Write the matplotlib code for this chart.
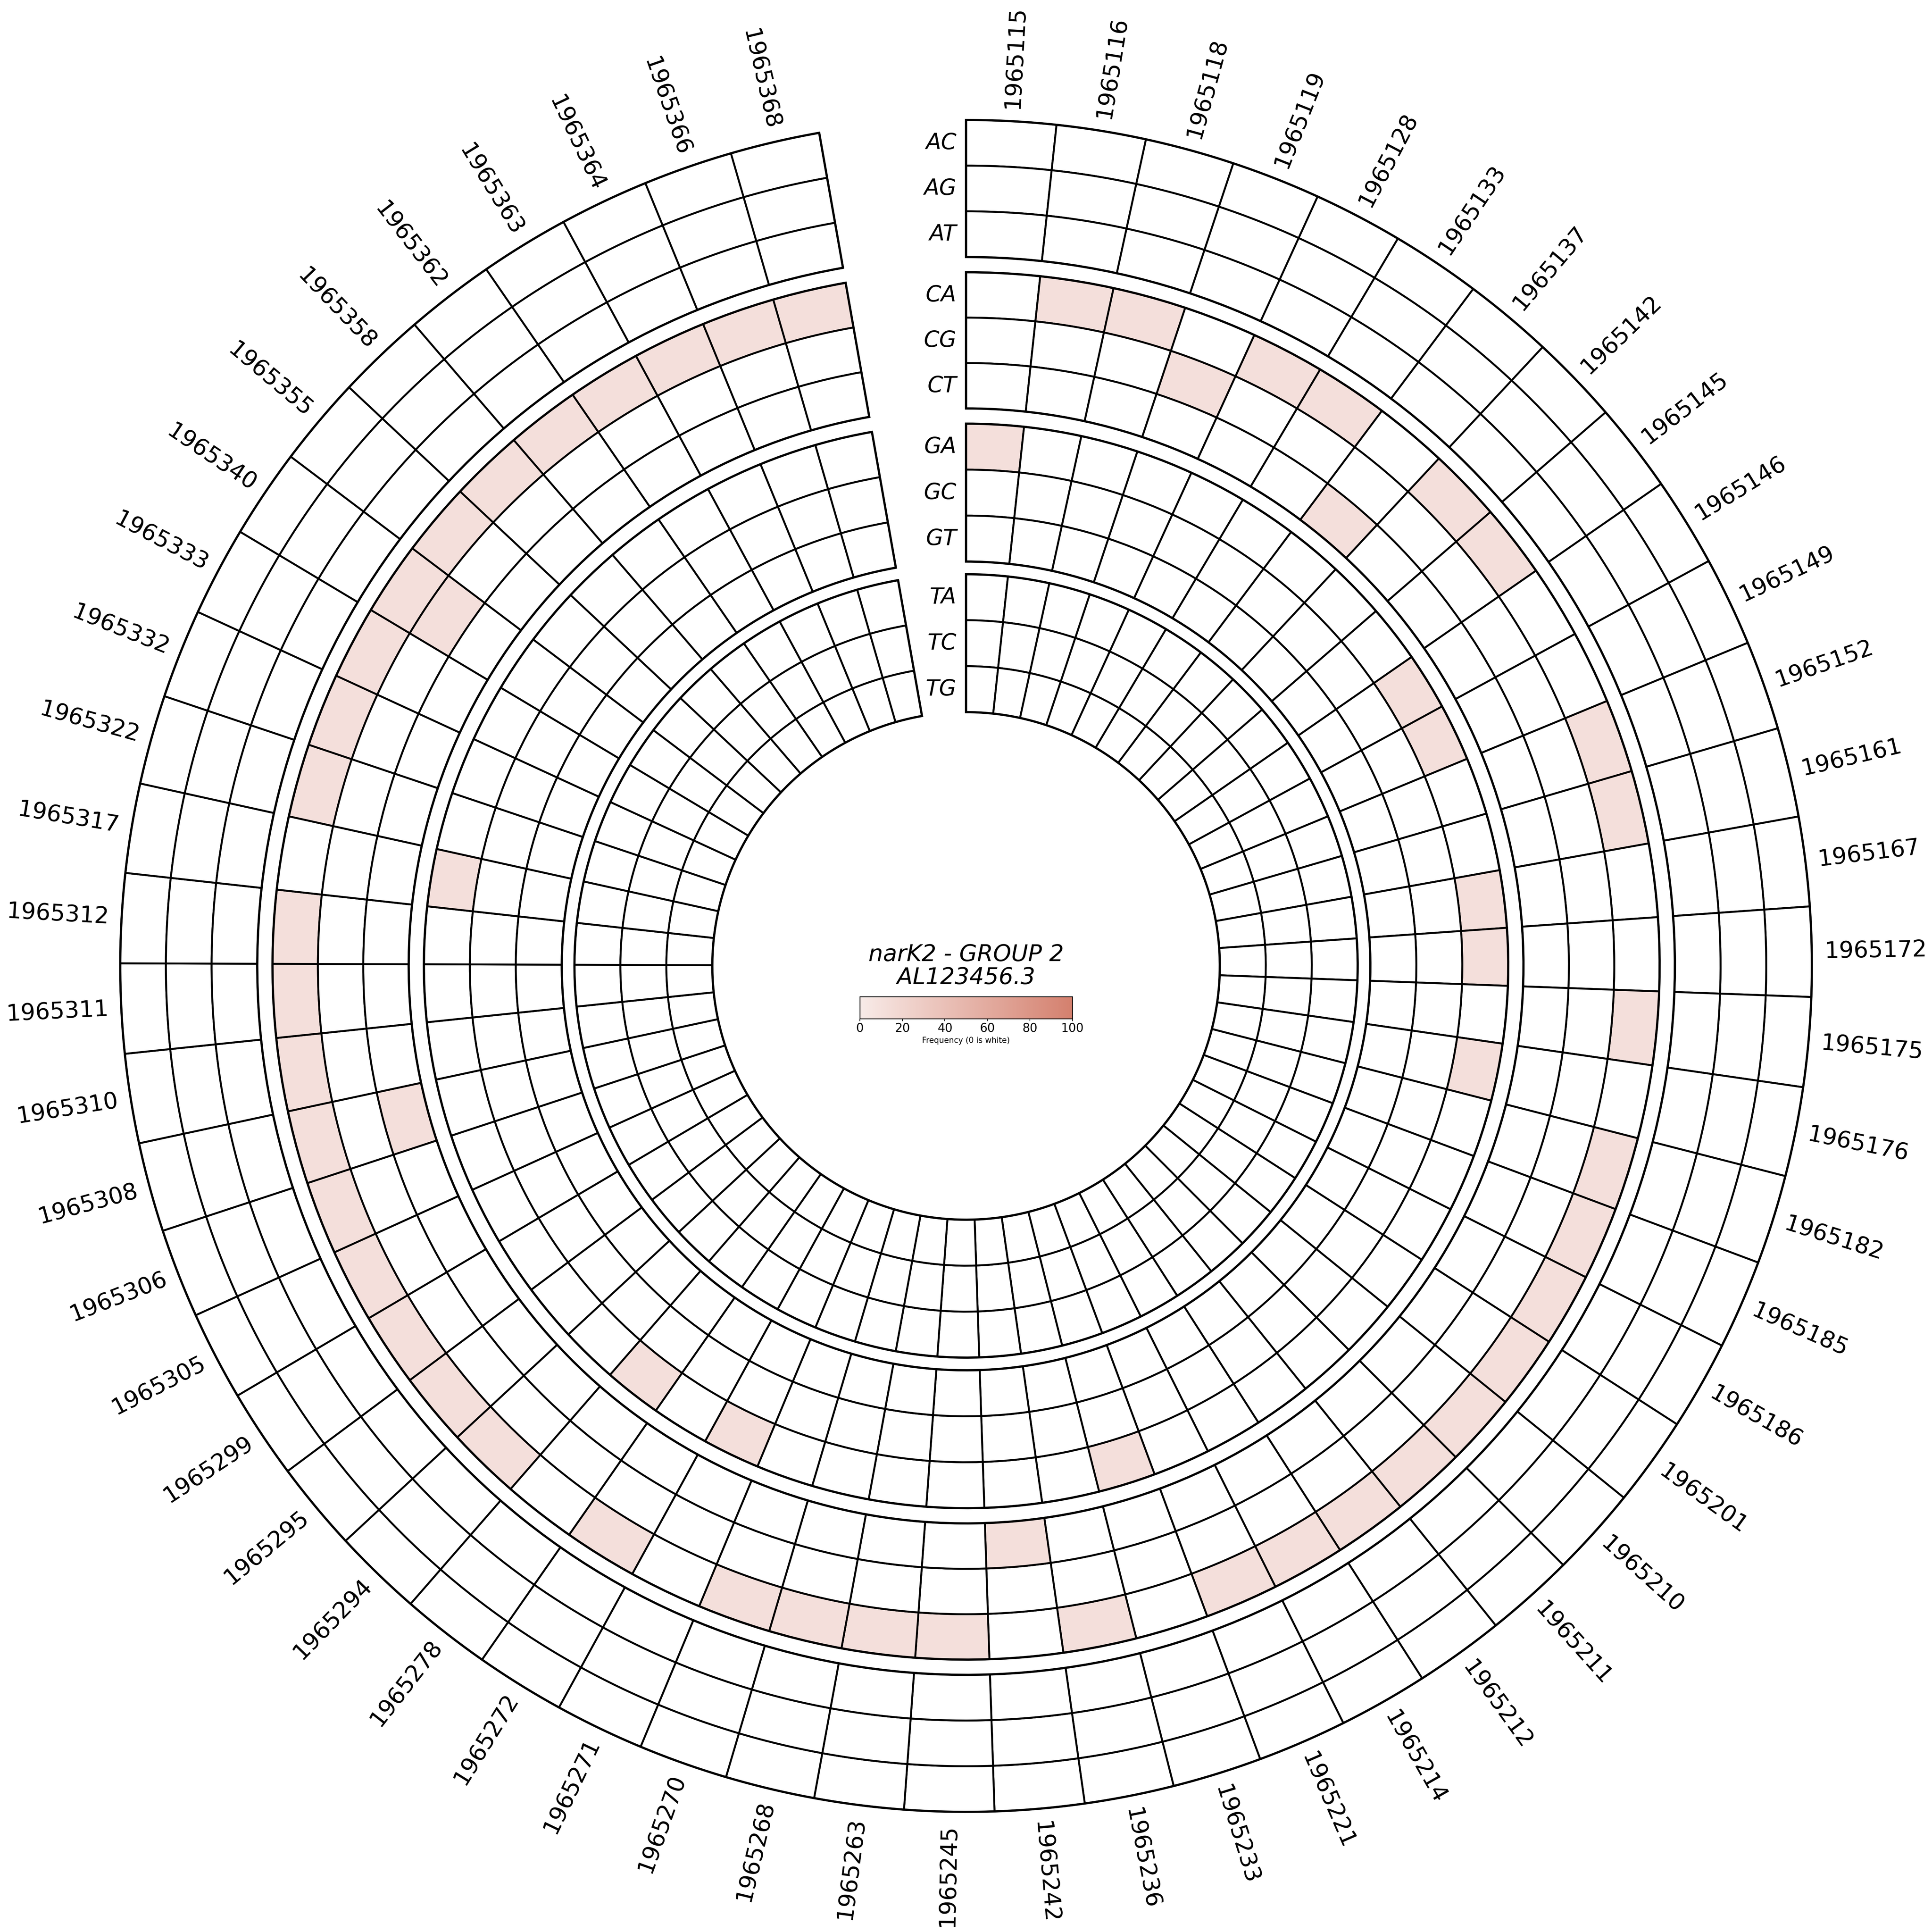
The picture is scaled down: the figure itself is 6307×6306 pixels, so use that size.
import numpy as np
import matplotlib
matplotlib.use("Agg")
import matplotlib.pyplot as plt
import matplotlib.transforms as mtransforms
from matplotlib.colors import LinearSegmentedColormap, Normalize

# genome positions, clockwise from 12 o'clock
positions = ["1965115", "1965116", "1965118", "1965119", "1965128", "1965133",
             "1965137", "1965142", "1965145", "1965146", "1965149", "1965152",
             "1965161", "1965167", "1965172", "1965175", "1965176", "1965182",
             "1965185", "1965186", "1965201", "1965210", "1965211", "1965212",
             "1965214", "1965221", "1965233", "1965236", "1965242", "1965245",
             "1965263", "1965268", "1965270", "1965271", "1965272", "1965278",
             "1965294", "1965295", "1965299", "1965305", "1965306", "1965308",
             "1965310", "1965311", "1965312", "1965317", "1965322", "1965332",
             "1965333", "1965340", "1965355", "1965358", "1965362", "1965363",
             "1965364", "1965366", "1965368"]

rows = ["AC", "AG", "AT", "CA", "CG", "CT", "GA", "GC", "GT", "TA", "TC", "TG"]

# position indexes with a non-zero frequency for each row (all other cells are 0)
ca_hits = [1, 2, 4, 5, 7, 8, 11, 12, 15, 17, 18, 19, 20, 21, 22, 23, 24, 25, 27,
           29, 30, 31, 32, 34, 36, 37, 38, 39, 40, 41, 42, 43, 44, 46, 47, 48,
           49, 50, 51, 52, 53, 54, 55, 56]
cg_hits = [3, 49]
ct_hits = [6, 28, 41]
ga_hits = [0, 9, 10, 13, 14, 16, 26, 33, 35, 45]
hit_freq = 11

freq = np.zeros((len(rows), len(positions)))
for name, idx in [("CA", ca_hits), ("CG", cg_hits), ("CT", ct_hits), ("GA", ga_hits)]:
    freq[rows.index(name), idx] = hit_freq

cmap = LinearSegmentedColormap.from_list("freq", ["#f8ebe8", "#d4806e"])
norm = Normalize(0, 100)

# largest dpi that keeps the png under the 40 Mpx reader limit
DPI = 373
fig = plt.figure(figsize=(6764 / 400, 6763 / 400), facecolor="white")
ax = fig.add_axes([0, 0, 1, 1], projection="polar")
ax.set_theta_zero_location("N")
ax.set_theta_direction(-1)
ax.set_rlim(0, 114.2)
ax.set_axis_off()

n = len(positions)
span = np.deg2rad(350)
w = span / n
theta = (np.arange(n) + 0.5) * w

# one track per first base, three rows each (outer -> inner)
tracks = [(83.8, 100.0), (65.9, 82.0), (47.8, 64.1), (30.0, 46.3)]
label_tf = mtransforms.offset_copy(ax.transData, fig=fig, x=-6, y=0, units="points")

for g, (r0, r1) in enumerate(tracks):
    h = (r1 - r0) / 3
    for k in range(3):
        ri = g * 3 + k
        bottom = r1 - (k + 1) * h
        cols = [cmap(norm(v)) if v > 0 else "white" for v in freq[ri]]
        ax.bar(theta, h, width=w, bottom=bottom, color=cols,
               edgecolor="black", linewidth=1.2)
        ax.text(0, bottom + h / 2, rows[ri], transform=label_tf, ha="right",
                va="center", fontsize=14, style="italic")
    ax.bar(span / 2, r1 - r0, width=span, bottom=r0, color="none",
           edgecolor="black", linewidth=1.4)

for i, lab in enumerate(positions):
    deg = np.rad2deg(theta[i])
    if deg < 180:
        rot, ha = 90 - deg, "left"
    else:
        rot, ha = 270 - deg, "right"
    ax.text(theta[i], 101.5, lab, rotation=rot, rotation_mode="anchor",
            ha=ha, va="center", fontsize=14.5)

ax.text(0, 0, "narK2 - GROUP 2\nAL123456.3", ha="center", va="center",
        fontsize=14.5, style="italic", linespacing=1.05)

cax = fig.add_axes([0.445, 0.4727, 0.11, 0.0114])
sm = plt.cm.ScalarMappable(cmap=cmap, norm=norm)
cb = fig.colorbar(sm, cax=cax, orientation="horizontal")
cb.set_ticks([0, 20, 40, 60, 80, 100])
cb.ax.tick_params(labelsize=7.5, length=1.5, width=0.4, pad=1)
cb.set_label("Frequency (0 is white)", fontsize=5, labelpad=1.5)
cb.outline.set_linewidth(0.5)

fig.savefig("out.png", dpi=DPI, facecolor="white")
